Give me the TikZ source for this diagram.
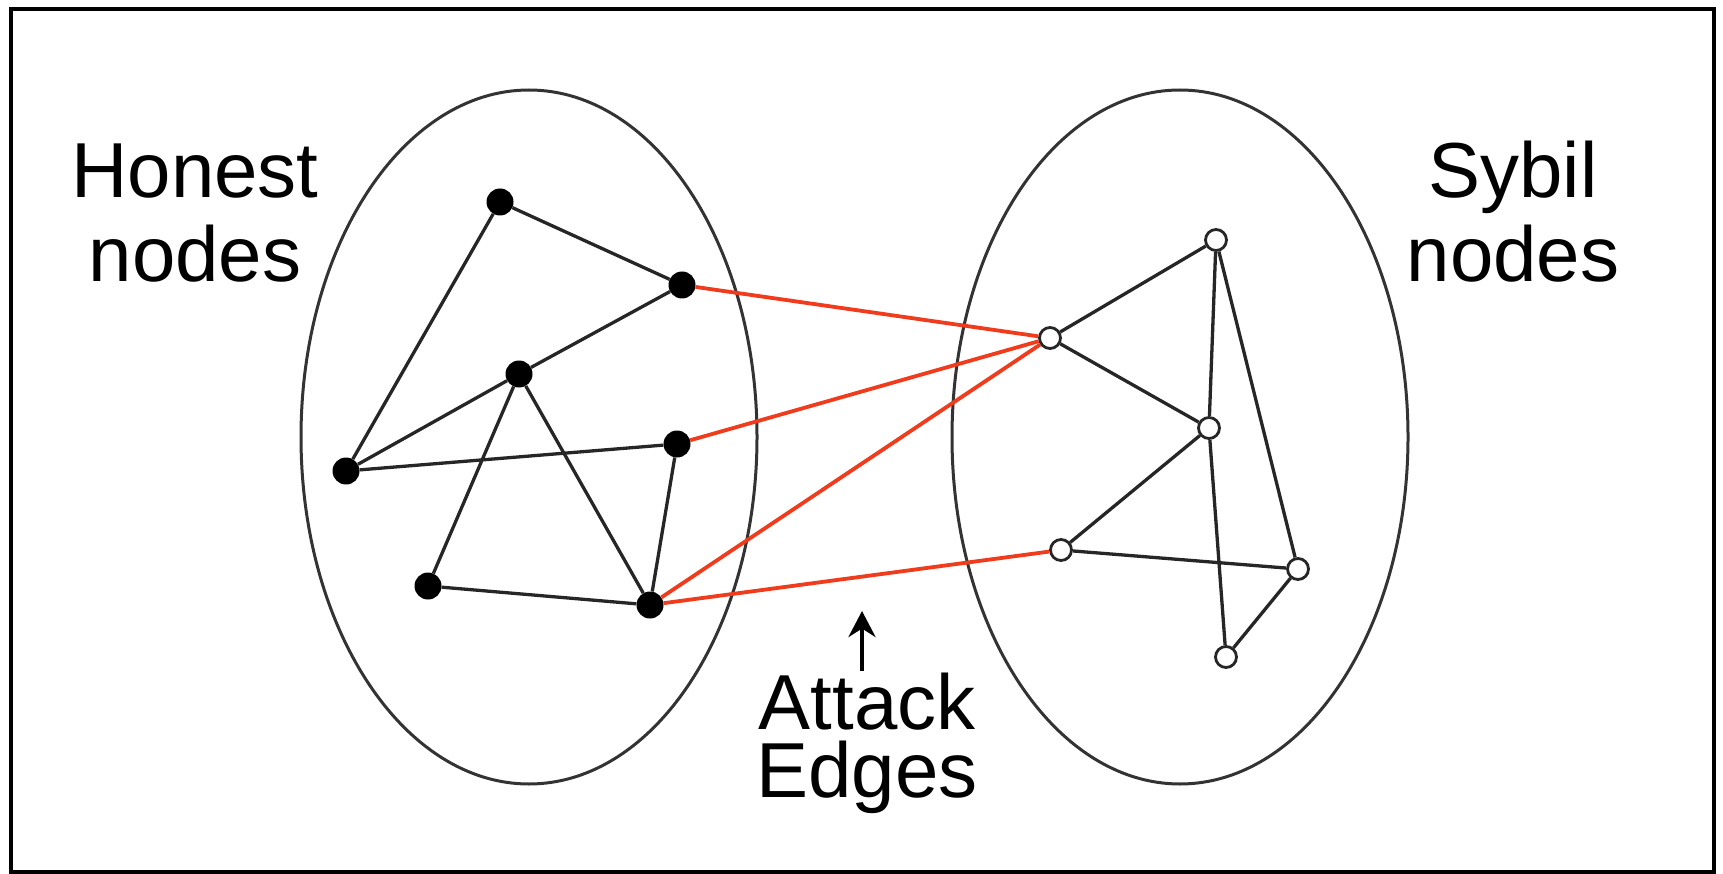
\documentclass[tikz,border=0pt]{standalone}
\usepackage{fontspec}
\setmainfont{Liberation Sans}
\usetikzlibrary{arrows.meta}
\definecolor{attackred}{RGB}{240,60,28}
\tikzset{
  honest/.style={circle, fill=black, draw=none, minimum size=27pt, inner sep=0pt},
  sybil/.style={circle, fill=white, draw=black!85, line width=2.8pt, minimum size=21pt, inner sep=0pt},
  region/.style={draw=black!80, line width=3pt},
  link/.style={draw=black!85, line width=3.3pt},
  attackedge/.style={draw=attackred, line width=3.8pt},
  caption/.style={inner sep=0pt, anchor=base, align=center},
  frame/.style={draw=black, line width=3.8pt},
}
\begin{document}
\begin{tikzpicture}[x=1pt,y=-1pt]
\useasboundingbox (0,0) rectangle (1723,874);
\draw[frame] (11,9) rectangle (1714,872);

% the two regions
\draw[region] (529,437) ellipse [x radius=228, y radius=347];
\draw[region] (1180,437) ellipse [x radius=228, y radius=347];

% honest nodes
\node[honest] (A) at (500,202) {};
\node[honest] (B) at (682,285) {};
\node[honest] (C) at (519,374) {};
\node[honest] (D) at (677,444) {};
\node[honest] (E) at (346,471) {};
\node[honest] (F) at (428,586) {};
\node[honest] (G) at (650,605) {};

% sybil nodes
\node[sybil] (S1) at (1216,240) {};
\node[sybil] (S2) at (1050,338) {};
\node[sybil] (S3) at (1209,428) {};
\node[sybil] (S4) at (1061,550) {};
\node[sybil] (S5) at (1298,569) {};
\node[sybil] (S6) at (1226,657) {};

% edges among honest nodes
\draw[link] (A) -- (B);
\draw[link] (A) -- (E);
\draw[link] (C) -- (B);
\draw[link] (C) -- (E);
\draw[link] (E) -- (D);
\draw[link] (C) -- (F);
\draw[link] (C) -- (G);
\draw[link] (F) -- (G);
\draw[link] (D) -- (G);

% edges among sybil nodes
\draw[link] (S1) -- (S2);
\draw[link] (S2) -- (S3);
\draw[link] (S1) -- (S3);
\draw[link] (S3) -- (S6);
\draw[link] (S1) -- (S5);
\draw[link] (S3) -- (S4);
\draw[link] (S4) -- (S5);
\draw[link] (S5) -- (S6);

% attack edges
\draw[attackedge] (B) -- (S2);
\draw[attackedge] (D) -- (S2);
\draw[attackedge] (G) -- (S2);
\draw[attackedge] (G) -- (S4);

% labels (the base anchor sits on the baseline of the last line)
\node[caption, font=\fontsize{78}{84}\selectfont] (honestlabel) at (195,282) {Honest\\nodes};
\node[caption, font=\fontsize{78}{84}\selectfont] (sybillabel) at (1513,282) {Sybil\\nodes};
\node[caption, font=\fontsize{78}{68}\selectfont] (attacklabel) at (867,797) {Attack\\Edges};

% pointer to the attack edges
\coordinate (arrowfoot) at (862,671);
\coordinate (arrowtip) at (862,611);
\draw[line width=4.2pt, -{Stealth[length=26pt, width=27pt]}] (arrowfoot) -- (arrowtip);
\end{tikzpicture}
\end{document}
